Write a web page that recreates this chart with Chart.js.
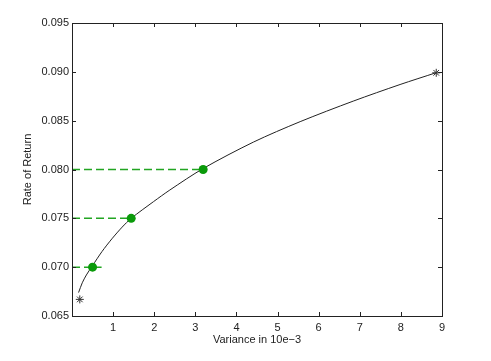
<!DOCTYPE html>
<html>
<head>
<meta charset="utf-8">
<script src="https://cdn.jsdelivr.net/npm/chart.js@4.4.0/dist/chart.umd.min.js"></script>
<style>
  html, body { margin: 0; padding: 0; background: #fff; }
  #wrap { width: 491px; height: 361px; }
</style>
</head>
<body>
<div id="wrap"><canvas id="frontier" width="491" height="361"></canvas></div>
<script>
// efficient frontier
const curveVar    = [0.16, 0.25, 0.35, 0.49, 0.73, 0.97, 1.22, 1.44, 1.98, 2.38, 3.19, 4.41, 5.55, 6.84, 7.98, 8.85];
const curveReturn = [0.0674, 0.0684, 0.0692, 0.0701, 0.0716, 0.0729, 0.0741, 0.0750, 0.0767, 0.0779, 0.0801, 0.0828, 0.0849, 0.0870, 0.0887, 0.0899];

// marked portfolios (green dots)
const dotVar    = [0.50, 1.44, 3.19];
const dotReturn = [0.070, 0.075, 0.080];

// dashed guides from the y axis
const guideReturn = [0.070, 0.075, 0.080];
const guideEnd    = [0.72, 1.44, 3.19];

// end points (asterisks)
const starVar    = [0.19, 8.86];
const starReturn = [0.0667, 0.0899];

const xTicks = [1, 2, 3, 4, 5, 6, 7, 8, 9];
const yTicks = [0.065, 0.070, 0.075, 0.080, 0.085, 0.090, 0.095];

const zip = (xs, ys) => xs.map((x, i) => ({ x, y: ys[i] }));

const guideSets = guideReturn.map((y, i) => ({
  data: [{ x: 0, y }, { x: guideEnd[i], y }],
  showLine: true, borderColor: '#22a522', borderWidth: 1.5, borderDash: [8, 4],
  pointRadius: 0, order: 3,
}));

// box + inward ticks like matlab
const boxTicks = {
  id: 'boxTicks',
  afterDraw(chart) {
    const { ctx, chartArea: a, scales } = chart;
    ctx.save();
    ctx.strokeStyle = '#222';
    ctx.lineWidth = 1;
    ctx.strokeRect(a.left + 0.5, a.top + 0.5, a.right - a.left, a.bottom - a.top);
    ctx.beginPath();
    xTicks.forEach(v => {
      const px = Math.round(scales.x.getPixelForValue(v)) + 0.5;
      ctx.moveTo(px, a.bottom); ctx.lineTo(px, a.bottom - 4);
      ctx.moveTo(px, a.top); ctx.lineTo(px, a.top + 4);
    });
    yTicks.forEach(v => {
      const py = Math.round(scales.y.getPixelForValue(v)) + 0.5;
      ctx.moveTo(a.left, py); ctx.lineTo(a.left + 4, py);
      ctx.moveTo(a.right, py); ctx.lineTo(a.right - 4, py);
    });
    ctx.stroke();
    ctx.restore();
  }
};

const tickFont = { family: "'Liberation Sans', Arial, sans-serif", size: 11 };

new Chart(document.getElementById('frontier'), {
  type: 'scatter',
  data: {
    datasets: [
      { data: zip(curveVar, curveReturn), showLine: true, borderColor: '#222', borderWidth: 1,
        pointRadius: 0, tension: 0.3, order: 2 },
      ...guideSets,
      { data: zip(dotVar, dotReturn), pointRadius: 4.5, backgroundColor: '#0a9a0a',
        borderColor: '#0a9a0a', borderWidth: 0, order: 1 },
      { data: zip(starVar, starReturn), pointStyle: 'star', pointRadius: 4,
        borderColor: '#333', borderWidth: 1, backgroundColor: '#333', order: 1 },
    ],
  },
  options: {
    responsive: false, animation: false,
    layout: { padding: { top: 23, right: 49, left: 0, bottom: 0 } },
    plugins: { legend: { display: false }, tooltip: { enabled: false } },
    scales: {
      x: {
        type: 'linear', min: 0, max: 9,
        afterBuildTicks: s => { s.ticks = xTicks.map(value => ({ value })); },
        afterFit: s => { s.height = 45; },
        grid: { display: false, drawTicks: false }, border: { display: false },
        ticks: { color: '#222', font: tickFont, padding: 5, maxRotation: 0, callback: v => String(v) },
        title: { display: true, text: 'Variance in 10e\u22123', color: '#222', font: tickFont,
                 padding: { top: 0, bottom: 14 } },
      },
      y: {
        type: 'linear', min: 0.065, max: 0.095,
        afterBuildTicks: s => { s.ticks = yTicks.map(value => ({ value })); },
        afterFit: s => { s.width = 72; },
        grid: { display: false, drawTicks: false }, border: { display: false },
        ticks: { color: '#222', font: tickFont, padding: 3, callback: v => v.toFixed(3) },
        title: { display: true, text: 'Rate of Return', color: '#222', font: tickFont,
                 padding: { top: 21, bottom: 0 } },
      },
    },
  },
  plugins: [boxTicks],
});
</script>
</body>
</html>
